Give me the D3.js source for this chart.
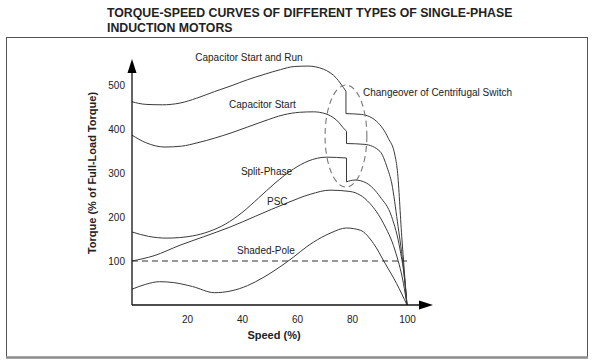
<!DOCTYPE html>
<html>
<head>
<meta charset="utf-8">
<script src="https://cdn.jsdelivr.net/npm/d3@7"></script>
<style>
  body { margin: 0; background: #fff; }
  svg text { font-family: "Liberation Sans", Arial, sans-serif; fill: #222; }
</style>
</head>
<body>
<svg id="chart" width="592" height="363"></svg>
<script>
// speed (%) / torque (% of full-load)
// each motor: curve before the switch, curve after it
const capStartRunBefore = [[0,462],[5,456],[11,455],[17.5,459],[23.5,470],[30,485],[36,498],[42,512],[48,524],[54,535],[59,542],[64,543],[69.6,536],[74.4,515],[76.9,494],[77.8,486]]
const capStartRunAfter = [[77.8,435],[83.5,433],[89,417],[93.2,379],[95.6,341],[96.5,305],[98.1,155],[100,0]]

const capStartBefore = [[0,386],[5,369],[12,359],[18,361],[24,369],[36,391],[48,418],[55,432],[61,438],[66,439],[70.2,435],[74.4,420],[77.5,398],[78,395]]
const capStartAfter = [[78,367],[84.7,365],[90.2,349],[92.8,312],[94.5,275],[96.5,190],[98.5,95],[100,0]]

const splitPhaseBefore = [[0,166],[6,156],[12.7,152],[22,157],[28,167],[34,184],[40,210],[46,243],[52,277],[58.7,309],[64,327],[70.8,336],[78,334]]
const splitPhaseAfter = [[78,280],[81.1,284],[85.3,277],[90.2,246],[94.4,201],[97.5,125],[99.3,50],[100,0]]

const psc = [[0,100],[8,112],[17.5,136],[26,155],[35.6,177],[45,202],[56.4,232],[65,252],[72,261],[79.3,258],[86.5,231],[91.4,186],[95.6,125],[98.7,49],[100,0]]

const shadedPole = [[0,36],[5,47],[10,53],[15,51],[22,42],[30,28],[36,32],[42,44],[47.6,62],[56.4,98],[66,143],[72,163],[78,175],[83,170],[87.8,140],[92,95],[96.2,49],[100,0]]

const fullLoad = [[0,100],[100,100]]

// centrifugal switch ellipse: center speed, torque, half-width, half-height
const switchZone = { speed: 77.8, torque: 384, dSpeed: 7.6, dTorque: 116 }

const xTicks = [20, 40, 60, 80, 100]
const yTicks = [100, 200, 300, 400, 500]

const curveLabels = [
  { text: 'Capacitor Start and Run', speed: 23, torque: 562 },
  { text: 'Capacitor Start', speed: 35.3, torque: 455 },
  { text: 'Split-Phase', speed: 39.6, torque: 303 },
  { text: 'PSC', speed: 49.1, torque: 235 },
  { text: 'Shaded-Pole', speed: 38.2, torque: 125 },
  { text: 'Changeover of Centrifugal Switch', speed: 84, torque: 482 }
]

const svg = d3.select('#chart')

const x = d3.scaleLinear().domain([0, 100]).range([132, 407])
const y = d3.scaleLinear().domain([0, 500]).range([305, 85])

// title
svg.append('text')
  .attr('x', 107).attr('y', 17)
  .style('font-size', '12.3px').style('font-weight', 'bold')
  .text('TORQUE-SPEED CURVES OF DIFFERENT TYPES OF SINGLE-PHASE')
svg.append('text')
  .attr('x', 107).attr('y', 32)
  .style('font-size', '12.3px').style('font-weight', 'bold')
  .text('INDUCTION MOTORS')

// frame
svg.append('rect')
  .attr('x', 6.5).attr('y', 37.5).attr('width', 581).attr('height', 320)
  .attr('fill', 'none').attr('stroke', '#555').attr('stroke-width', 1)
svg.append('line')
  .attr('x1', 6).attr('x2', 588).attr('y1', 357.5).attr('y2', 357.5)
  .attr('stroke', '#8c8c8c').attr('stroke-width', 2.5)

const line = d3.line().x(d => x(d[0])).y(d => y(d[1])).curve(d3.curveMonotoneX)

function joined(before, after) {
  return line(before) + line(after).replace(/^M/, 'L')
}

const paths = [
  joined(capStartRunBefore, capStartRunAfter),
  joined(capStartBefore, capStartAfter),
  joined(splitPhaseBefore, splitPhaseAfter),
  line(psc),
  line(shadedPole)
]

svg.append('g').selectAll('path')
  .data(paths)
  .join('path')
  .attr('d', d => d)
  .attr('fill', 'none')
  .attr('stroke', '#3a3a3a')
  .attr('stroke-width', 1)

// full load torque
svg.append('path')
  .attr('d', d3.line().x(d => x(d[0])).y(d => y(d[1]))(fullLoad))
  .attr('fill', 'none').attr('stroke', '#333').attr('stroke-width', 1.1)
  .attr('stroke-dasharray', '6,4')

// switch ellipse
svg.append('ellipse')
  .attr('cx', x(switchZone.speed)).attr('cy', y(switchZone.torque))
  .attr('rx', x(switchZone.dSpeed) - x(0)).attr('ry', y(0) - y(switchZone.dTorque))
  .attr('fill', 'none').attr('stroke', '#777').attr('stroke-width', 1.1)
  .attr('stroke-dasharray', '6,4')

// axes
const xAxis = svg.append('g')
  .attr('transform', `translate(0, ${y(0)})`)
  .call(d3.axisBottom(x).tickValues(xTicks).tickSize(0).tickPadding(10.5))
const yAxis = svg.append('g')
  .attr('transform', `translate(${x(0)}, 0)`)
  .call(d3.axisLeft(y).tickValues(yTicks).tickSize(0).tickPadding(7))
;[xAxis, yAxis].forEach(a => {
  a.select('.domain').remove()
  a.selectAll('text')
    .style('font-family', '"Liberation Sans", Arial, sans-serif')
    .style('font-size', '10px')
    .attr('fill', '#333')
})

svg.append('line')
  .attr('x1', x(0)).attr('x2', 421).attr('y1', y(0)).attr('y2', y(0))
  .attr('stroke', '#111').attr('stroke-width', 1.3)
svg.append('path')
  .attr('d', `M419,${y(0) - 4.5}L433,${y(0)}L419,${y(0) + 4.5}Z`)
  .attr('fill', '#000')
svg.append('line')
  .attr('x1', x(0)).attr('x2', x(0)).attr('y1', y(0)).attr('y2', 71)
  .attr('stroke', '#111').attr('stroke-width', 1.3)
svg.append('path')
  .attr('d', `M${x(0) - 4.5},73L${x(0)},59L${x(0) + 4.5},73Z`)
  .attr('fill', '#000')

// axis titles
svg.append('text')
  .attr('x', 274).attr('y', 339)
  .attr('text-anchor', 'middle')
  .style('font-size', '11px').style('font-weight', 'bold')
  .text('Speed (%)')
svg.append('text')
  .attr('transform', 'translate(96, 173) rotate(-90)')
  .attr('text-anchor', 'middle')
  .style('font-size', '11px').style('font-weight', 'bold')
  .text('Torque (% of Full-Load Torque)')

// curve labels
svg.append('g').selectAll('text')
  .data(curveLabels)
  .join('text')
  .attr('x', d => x(d.speed))
  .attr('y', d => y(d.torque))
  .attr('dy', '0.35em')
  .style('font-size', '10px')
  .text(d => d.text)
</script>
</body>
</html>
